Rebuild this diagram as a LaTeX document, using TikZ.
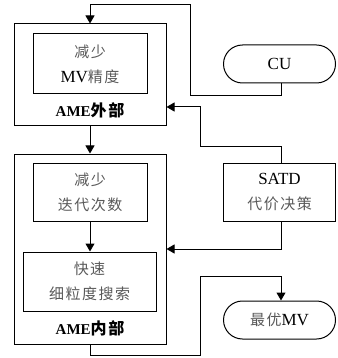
\documentclass[tikz,border=0pt]{standalone}
\usepackage{fontspec}
\setmainfont{Liberation Serif}
\newfontfamily\cjk[LetterSpace=10]{Noto Sans CJK SC}
\usetikzlibrary{arrows.meta,shapes.misc}
\newcommand{\zh}[1]{{\cjk\fontsize{15}{25}\selectfont\color{black!65}#1}}
\begin{document}
\begin{tikzpicture}[x=1pt,y=-1pt,
  line width=1pt,
  box/.style={draw,rectangle,inner sep=0pt},
  term/.style={draw,rounded rectangle,inner sep=0pt,minimum width=112pt,minimum height=38pt},
  txt/.style={align=center,font=\fontsize{17}{25}\selectfont},
  lbl/.style={font=\fontsize{15}{16}\selectfont\bfseries},
  arr/.style={-{Triangle[length=8pt,width=9pt]}}]
\useasboundingbox (0,0) rectangle (337,358);
% outer boxes
\node[box,minimum width=152pt,minimum height=102pt] (out1) at (90,75) {};
\node[box,minimum width=152pt,minimum height=190pt] (out2) at (90,249) {};
% inner boxes
\node[box,txt,minimum width=114pt,minimum height=60pt] (in1) at (90,64) {\zh{减少}\\MV\zh{精度}};
\node[box,txt,minimum width=114pt,minimum height=58pt] (in2) at (90,192) {\zh{减少}\\\zh{迭代次数}};
\node[box,txt,minimum width=133pt,minimum height=59pt] (in3) at (89.5,281.5) {\zh{快速}\\\zh{细粒度搜索}};
\node[lbl] (l1) at (90,110) {AME{\cjk\fontsize{16}{16}\selectfont 外部}};
\node[lbl] (l2) at (90,328) {AME{\cjk\fontsize{16}{16}\selectfont 内部}};
% right side
\node[term,txt] (cu) at (279.5,64) {CU};
\node[box,txt,minimum width=112pt,minimum height=58pt] (satd) at (279.5,192) {SATD\\\zh{代价决策}};
\node[term,txt] (mv) at (279.5,320) {\zh{最优}MV};
% connectors
\coordinate (c1) at (281,96);
\coordinate (c2) at (190,96);
\coordinate (c3) at (190,5);
\coordinate (c4) at (90,5);
\draw[arr] (cu.south -| c1) -- (c1) -- (c2) -- (c3) -- (c4) -- (out1.north);
\coordinate (s1) at (281,147);
\coordinate (s2) at (200,147);
\coordinate (s3) at (200,107);
\draw[arr] (satd.north -| s1) -- (s1) -- (s2) -- (s3) -- (s3 -| out1.east);
\draw[arr] (out1.south) -- (out2.north);
\draw[arr] (in2.south) -- (in2.south |- in3.north);
\coordinate (t1) at (281,249);
\draw[arr] (satd.south -| t1) -- (t1) -- (t1 -| out2.east);
\coordinate (b1) at (90,355);
\coordinate (b2) at (200,355);
\coordinate (b3) at (200,276);
\coordinate (b4) at (281,276);
\draw[arr] (out2.south) -- (b1) -- (b2) -- (b3) -- (b4) -- (mv.north -| b4);
\end{tikzpicture}
\end{document}
